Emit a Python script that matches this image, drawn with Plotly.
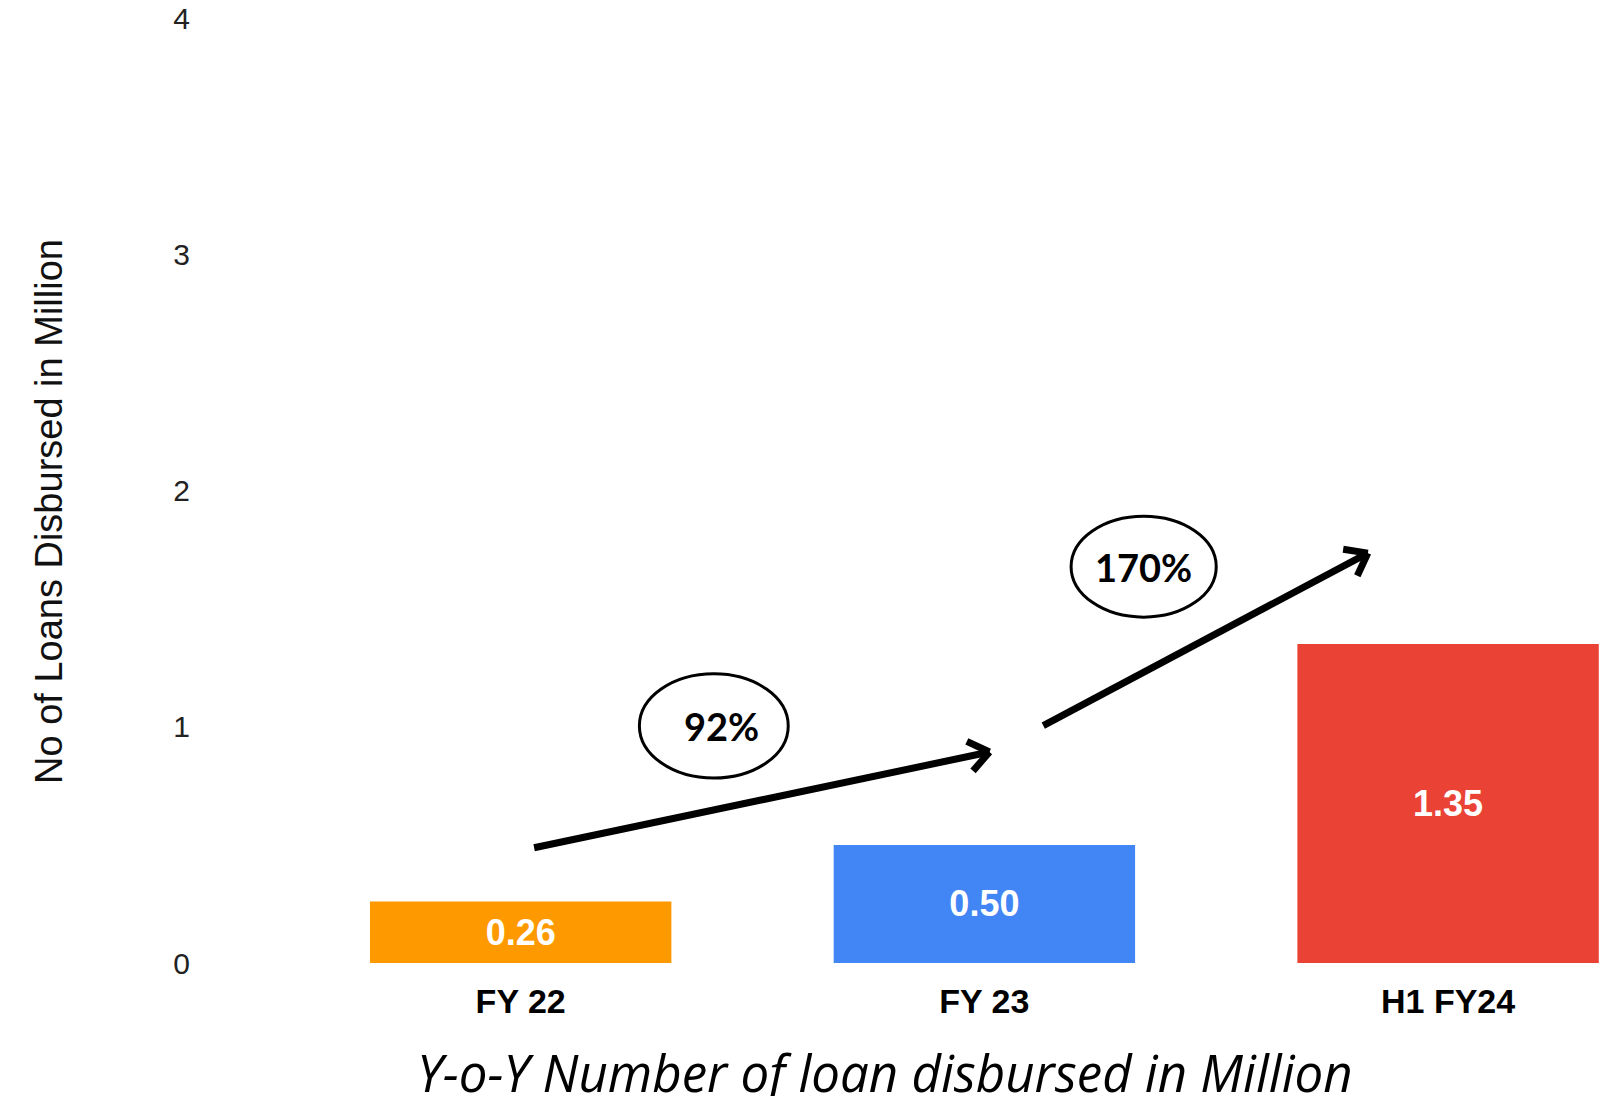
import numpy as np
import plotly.graph_objects as go

# ---------------- data ----------------
categories = ["FY 22", "FY 23", "H1 FY24"]
loans_million = [0.26, 0.50, 1.35]
bar_colors = ["#FF9900", "#4285F4", "#EA4335"]
y_tick_values = [0, 1, 2, 3, 4]
growth_labels = ["92%", "170%"]
y_title = "No of Loans Disbursed in Million"
x_title = "Y-o-Y Number of loan disbursed in Million"

# ---------------- layout geometry ----------------
W, H = 1609, 1096
ML, MR, MT, MB = 197, 0, 18, 133
plot_w = W - ML - MR
plot_h = H - MT - MB
x_range = [-0.698, 2.347]
y_range = [0, 4]


def to_px(x, y):
    px = ML + (x - x_range[0]) / (x_range[1] - x_range[0]) * plot_w
    py = MT + (y_range[1] - y) / (y_range[1] - y_range[0]) * plot_h
    return px, py


def to_data(px, py):
    x = x_range[0] + (px - ML) / plot_w * (x_range[1] - x_range[0])
    y = y_range[1] - (py - MT) / plot_h * (y_range[1] - y_range[0])
    return x, y


fig = go.Figure(
    go.Bar(
        x=categories,
        y=loans_million,
        marker=dict(color=bar_colors, line=dict(width=0)),
        width=0.65,
        texttemplate="%{y:.2f}",
        textposition="inside",
        insidetextanchor="middle",
        textangle=0,
        constraintext="none",
        textfont=dict(family="Liberation Sans", size=36, color="white", weight="bold"),
        hoverinfo="skip",
    )
)

shapes = []
annotations = []

# growth arrows (tail, head in data units)
arrows = [((0.029, 0.488), (1.011, 0.893)), ((1.127, 1.005), (1.827, 1.735))]
for (tx, ty), (hx, hy) in arrows:
    shapes.append(dict(type="line", xref="x", yref="y", x0=tx, y0=ty, x1=hx, y1=hy,
                       line=dict(color="black", width=7)))
    tpx, tpy = to_px(tx, ty)
    hpx, hpy = to_px(hx, hy)
    back = np.array([tpx - hpx, tpy - hpy])
    back = back / np.linalg.norm(back)
    for ang in (np.radians(37), -np.radians(37)):
        rot = np.array([[np.cos(ang), -np.sin(ang)], [np.sin(ang), np.cos(ang)]])
        arm = rot @ back * 25
        ax, ay = to_data(hpx + arm[0], hpy + arm[1])
        shapes.append(dict(type="line", xref="x", yref="y", x0=hx, y0=hy, x1=ax, y1=ay,
                           line=dict(color="black", width=7)))

# ellipses with growth labels (x0, x1, y0, y1 in data units)
ellipses = [(0.256, 0.577, 0.783, 1.224), (1.187, 1.500, 1.464, 1.891)]
label_shift = [8, 0]
for (x0, x1, y0, y1), lab, sh in zip(ellipses, growth_labels, label_shift):
    shapes.append(dict(type="circle", xref="x", yref="y", x0=x0, x1=x1, y0=y0, y1=y1,
                       line=dict(color="black", width=3), fillcolor="rgba(0,0,0,0)"))
    annotations.append(dict(x=(x0 + x1) / 2, y=(y0 + y1) / 2, xref="x", yref="y",
                            text=lab, showarrow=False, xshift=sh,
                            font=dict(family="Lato", size=38, color="black", weight="bold")))

# axis titles
annotations.append(dict(x=(49 - ML) / plot_w, y=(MT + plot_h - 512) / plot_h,
                        xref="paper", yref="paper", text=y_title, textangle=-90,
                        showarrow=False, xanchor="center", yanchor="middle",
                        font=dict(family="Liberation Sans", size=38, color="#111111")))
annotations.append(dict(x=(885 - ML) / plot_w, y=(MT + plot_h - 1072) / plot_h,
                        xref="paper", yref="paper", text=x_title,
                        showarrow=False, xanchor="center", yanchor="middle",
                        font=dict(family="Open Sans", size=51, color="black",
                                  style="italic", weight=400)))

fig.update_layout(
    width=W, height=H,
    margin=dict(l=ML, r=MR, t=MT, b=MB, pad=0),
    paper_bgcolor="white", plot_bgcolor="white",
    showlegend=False,
    shapes=shapes,
    annotations=annotations,
    bargap=0.35,
)
fig.update_xaxes(range=x_range, showgrid=False, zeroline=False, showline=False, ticks="",
                 ticklabelstandoff=15,
                 tickfont=dict(family="Liberation Sans", size=34, color="black", weight="bold"))
fig.update_yaxes(range=y_range, tickvals=y_tick_values, showgrid=False, zeroline=False,
                 showline=False, ticks="", ticklabelstandoff=6,
                 tickfont=dict(family="Liberation Sans", size=30, color="#222222"))

fig.write_html("out.html")
